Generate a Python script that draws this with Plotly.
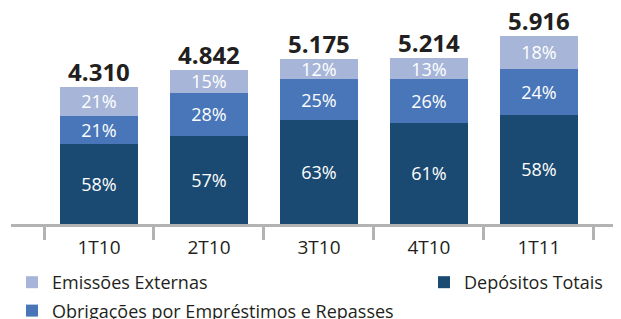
import plotly.graph_objects as go

categories = ["1T10", "2T10", "3T10", "4T10", "1T11"]
totals = [4310, 4842, 5175, 5214, 5916]
total_labels = ["4.310", "4.842", "5.175", "5.214", "5.916"]
pct_depositos = [58, 57, 63, 61, 58]
pct_obrigacoes = [21, 28, 25, 26, 24]
pct_emissoes = [21, 15, 12, 13, 18]

series = [
    ("Depósitos Totais", pct_depositos, "#1a4a72", "legend2", 3),
    ("Obrigações por Empréstimos e Repasses", pct_obrigacoes, "#4876b9", "legend", 2),
    ("Emissões Externas", pct_emissoes, "#a7b6d8", "legend", 1),
]

FONT = "Open Sans"
TXT = "#231f20"
W, H = 613, 311  # page body has an 8px margin inside the 621x319 window

fig = go.Figure()
for name, pcts, color, leg, rank in series:
    vals = [t * p / 100 for t, p in zip(totals, pcts)]
    fig.add_trace(go.Bar(
        x=categories, y=vals, name=name, marker_color=color,
        marker_line_width=0, legend=leg, legendrank=rank, legendgroup=name,
        text=[f"{p}%" for p in pcts], textposition="inside",
        insidetextanchor="middle", constraintext="none", textangle=0,
        textfont=dict(color="white", size=18, family=FONT),
        hoverinfo="skip",
    ))

fig.add_trace(go.Scatter(
    x=categories, y=totals, mode="text", text=total_labels,
    textposition="top center", showlegend=False, cliponaxis=False,
    textfont=dict(size=24, color=TXT, family=FONT),
    texttemplate="<b>%{text}</b>", hoverinfo="skip",
))

legend_common = dict(
    font=dict(size=18, family=FONT, color=TXT),
    xref="container", yref="container", yanchor="top", xanchor="left",
    bgcolor="rgba(0,0,0,0)", itemsizing="constant",
)
fig.update_layout(
    barmode="stack", bargap=0.285,
    width=W, height=H,
    margin=dict(l=3, r=0, t=0, b=95, autoexpand=False),
    plot_bgcolor="white", paper_bgcolor="white",
    font=dict(family=FONT, color=TXT, size=16),
    legend=dict(x=4 / W, y=1 - 256 / H, orientation="v",
                traceorder="grouped", tracegroupgap=2, **legend_common),
    legend2=dict(x=416 / W, y=1 - 256 / H, orientation="v",
                 **legend_common),
    showlegend=True,
)
fig.update_xaxes(
    range=[-0.8, 4.746], showline=True, linecolor="#b3b3b3", linewidth=3,
    ticks="outside", tickson="boundaries", ticklen=13, tickwidth=3,
    tickcolor="#b3b3b3", tickfont=dict(size=19, color=TXT, family=FONT),
    tickangle=0, automargin=False, ticklabelstandoff=4,
    showgrid=False, fixedrange=True,
)
fig.update_yaxes(range=[0, 6780], visible=False, showgrid=False, fixedrange=True)

fig.write_html("out.html")
